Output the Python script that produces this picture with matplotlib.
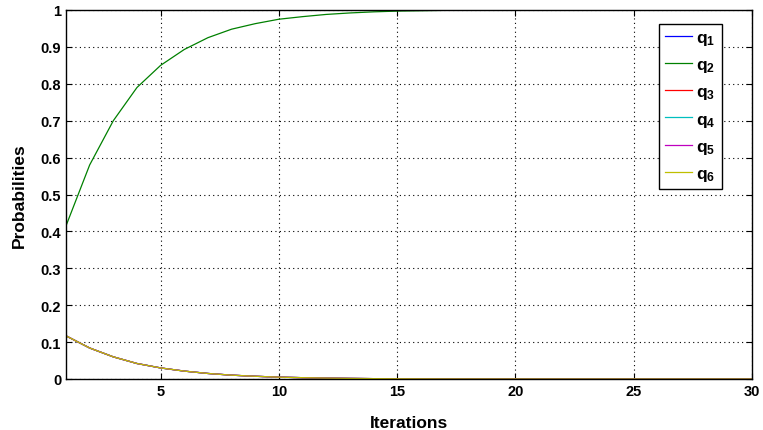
import numpy as np
import matplotlib.pyplot as plt

plt.rcParams['font.family'] = ['Liberation Sans', 'DejaVu Sans']
plt.rcParams['font.weight'] = 'bold'
plt.rcParams['mathtext.fontset'] = 'custom'
plt.rcParams['mathtext.bf'] = 'Liberation Sans:bold'
plt.rcParams['mathtext.rm'] = 'Liberation Sans:bold'

iterations = np.arange(1, 31)
q_main = [0.415, 0.58, 0.70, 0.79, 0.85, 0.893, 0.925, 0.948, 0.963, 0.975,
          0.982, 0.988, 0.992, 0.995, 0.997, 0.998, 0.999, 0.9993, 0.9996, 0.9998,
          0.9999, 1.0, 1.0, 1.0, 1.0, 1.0, 1.0, 1.0, 1.0, 1.0]
q_rest = [0.117, 0.084, 0.060, 0.042, 0.030, 0.0214, 0.015, 0.0104, 0.0074, 0.005,
          0.0036, 0.0024, 0.0016, 0.001, 0.0006, 0.0004, 0.0002, 0.00014, 0.00008, 0.00004,
          0.00002, 0.0, 0.0, 0.0, 0.0, 0.0, 0.0, 0.0, 0.0, 0.0]

labels = [r'$\mathbf{q_1}$', r'$\mathbf{q_2}$', r'$\mathbf{q_3}$',
          r'$\mathbf{q_4}$', r'$\mathbf{q_5}$', r'$\mathbf{q_6}$']
colors = ['#0000ff', '#008000', '#ff0000', '#00bfbf', '#bf00bf', '#bfbf00']
series = [q_rest, q_main, q_rest, q_rest, q_rest, q_rest]

fig = plt.figure(figsize=(7.63, 4.31), dpi=100)
ax = fig.add_axes([66 / 763, 51 / 431, 686 / 763, 369 / 431])

for vals, lab, col in zip(series, labels, colors):
    ax.plot(iterations, vals, color=col, lw=0.9, label=lab)

ax.set_xlim(1, 30)
ax.set_ylim(0, 1)
ax.set_xticks([5, 10, 15, 20, 25, 30])
ax.set_yticks(np.arange(0, 1.01, 0.1))
ax.set_yticklabels(['0', '0.1', '0.2', '0.3', '0.4', '0.5', '0.6', '0.7', '0.8', '0.9', '1'])
ax.tick_params(direction='in', top=True, right=True, labelsize=10.5, length=4)
for lab in ax.get_xticklabels() + ax.get_yticklabels():
    lab.set_fontweight('bold')
ax.grid(True, color='black', linestyle=(0, (1, 3)), linewidth=0.8)
for sp in ax.spines.values():
    sp.set_linewidth(1.0)

ax.set_xlabel('Iterations', fontsize=12.5, fontweight='bold', labelpad=12)
ax.set_ylabel('Probabilities', fontsize=12.5, fontweight='bold', labelpad=10)

leg = ax.legend(loc='upper right', bbox_to_anchor=(0.956, 0.963), fontsize=12.5,
                handlelength=1.55, handletextpad=0.25, labelspacing=0.58,
                fancybox=False, edgecolor='black', framealpha=1, borderpad=0.35,
                borderaxespad=0)
leg.get_frame().set_linewidth(1.0)

fig.savefig('out.png', dpi=100)
